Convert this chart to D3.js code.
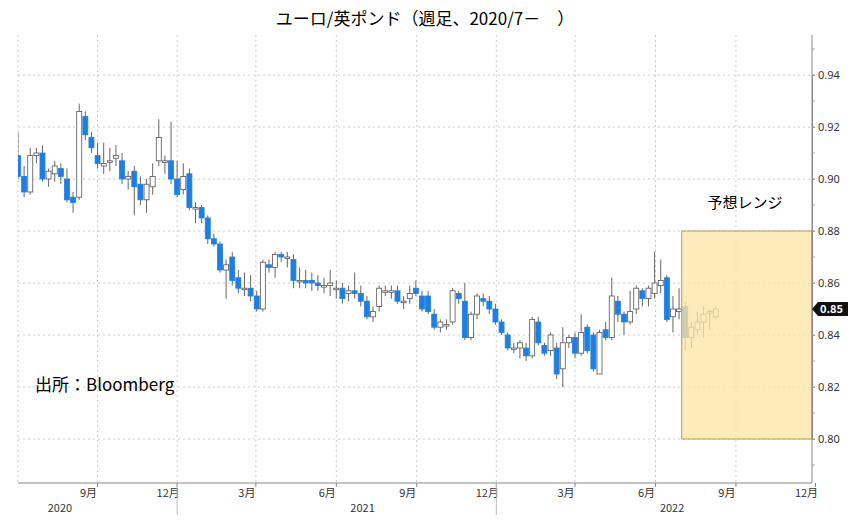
<!DOCTYPE html>
<html><head><meta charset="utf-8">
<script src="https://cdn.jsdelivr.net/npm/d3@7"></script>
<style>body{margin:0;background:#fff;font-family:"Noto Sans CJK JP","Noto Sans",sans-serif}</style>
</head><body><svg id="chart" width="854" height="525"></svg>
<script>
// weekly candles [open, high, low, close], from late May 2020
const candles = [
 [0.905,0.908,0.899,0.901],[0.909,0.918,0.900,0.901],[0.901,0.905,0.893,0.895],[0.895,0.912,0.894,0.909],
 [0.909,0.912,0.906,0.910],[0.910,0.913,0.899,0.900],[0.900,0.904,0.897,0.903],[0.902,0.907,0.899,0.905],
 [0.904,0.906,0.898,0.901],[0.900,0.904,0.891,0.892],[0.893,0.895,0.887,0.891],[0.893,0.929,0.892,0.926],
 [0.924,0.926,0.915,0.917],[0.916,0.918,0.910,0.912],[0.909,0.914,0.904,0.906],[0.905,0.914,0.902,0.906],
 [0.907,0.912,0.903,0.907],[0.908,0.913,0.905,0.909],[0.907,0.910,0.898,0.900],[0.900,0.903,0.896,0.901],
 [0.903,0.905,0.886,0.897],[0.898,0.901,0.890,0.892],[0.892,0.900,0.887,0.898],[0.897,0.906,0.894,0.901],
 [0.907,0.923,0.905,0.916],[0.907,0.909,0.902,0.907],[0.907,0.922,0.898,0.900],[0.900,0.907,0.893,0.894],
 [0.896,0.906,0.894,0.901],[0.902,0.904,0.888,0.889],[0.889,0.891,0.883,0.889],[0.889,0.890,0.883,0.885],
 [0.885,0.886,0.875,0.877],[0.877,0.879,0.874,0.875],[0.875,0.876,0.864,0.865],[0.865,0.869,0.854,0.867],
 [0.870,0.872,0.859,0.861],[0.862,0.865,0.856,0.858],[0.858,0.864,0.855,0.858],[0.858,0.863,0.853,0.855],
 [0.855,0.857,0.849,0.850],[0.850,0.869,0.849,0.868],[0.867,0.869,0.864,0.866],[0.866,0.872,0.862,0.871],
 [0.871,0.872,0.868,0.870],[0.870,0.872,0.866,0.870],[0.869,0.871,0.858,0.861],[0.861,0.866,0.858,0.861],
 [0.861,0.865,0.858,0.860],[0.861,0.864,0.857,0.860],[0.860,0.863,0.857,0.859],[0.859,0.862,0.856,0.859],
 [0.859,0.865,0.855,0.860],[0.858,0.861,0.854,0.858],[0.858,0.860,0.852,0.854],[0.856,0.859,0.853,0.857],
 [0.857,0.864,0.854,0.856],[0.856,0.859,0.851,0.853],[0.853,0.855,0.846,0.847],[0.847,0.851,0.845,0.849],
 [0.851,0.859,0.849,0.858],[0.857,0.859,0.855,0.857],[0.857,0.859,0.854,0.857],[0.857,0.859,0.852,0.853],
 [0.853,0.855,0.850,0.853],[0.854,0.859,0.852,0.856],[0.858,0.861,0.855,0.856],[0.855,0.857,0.849,0.850],
 [0.855,0.857,0.848,0.849],[0.848,0.850,0.842,0.843],[0.843,0.846,0.841,0.845],[0.844,0.846,0.842,0.844],
 [0.845,0.858,0.844,0.857],[0.856,0.857,0.852,0.854],[0.853,0.860,0.838,0.839],[0.839,0.849,0.838,0.848],
 [0.848,0.856,0.846,0.855],[0.854,0.856,0.851,0.853],[0.853,0.855,0.848,0.850],[0.850,0.852,0.844,0.845],
 [0.845,0.846,0.840,0.841],[0.840,0.841,0.834,0.835],[0.835,0.837,0.833,0.835],[0.835,0.838,0.831,0.837],
 [0.835,0.837,0.830,0.832],[0.832,0.847,0.831,0.846],[0.845,0.847,0.836,0.837],[0.836,0.837,0.832,0.833],
 [0.834,0.841,0.832,0.840],[0.835,0.837,0.823,0.825],[0.827,0.843,0.820,0.837],[0.837,0.840,0.835,0.839],
 [0.839,0.841,0.831,0.833],[0.833,0.848,0.832,0.841],[0.843,0.844,0.833,0.834],[0.840,0.841,0.826,0.827],
 [0.825,0.842,0.825,0.841],[0.842,0.845,0.838,0.839],[0.839,0.862,0.838,0.855],[0.853,0.855,0.845,0.848],
 [0.848,0.849,0.840,0.845],[0.845,0.857,0.844,0.849],[0.850,0.859,0.848,0.858],[0.857,0.858,0.851,0.854],
 [0.854,0.859,0.851,0.858],[0.856,0.872,0.854,0.860],[0.859,0.869,0.856,0.861],[0.862,0.863,0.845,0.846],
 [0.847,0.855,0.841,0.850],[0.849,0.858,0.846,0.850],[0.851,0.853,0.834,0.839],[0.839,0.845,0.835,0.843],
 [0.842,0.849,0.840,0.845],[0.845,0.851,0.839,0.848],[0.849,0.850,0.842,0.849],[0.847,0.851,0.846,0.850]
];
const startDate = new Date(2020, 4, 26);
const yTicks = [0.80, 0.82, 0.84, 0.86, 0.88, 0.90, 0.92, 0.94];
const monthTicks = [new Date(2020,8,1),new Date(2020,11,1),new Date(2021,2,1),new Date(2021,5,1),new Date(2021,8,1),
  new Date(2021,11,1),new Date(2022,2,1),new Date(2022,5,1),new Date(2022,8,1),new Date(2022,11,1)];
const years = [["2020", new Date(2020,6,20)], ["2021", new Date(2021,6,1)], ["2022", new Date(2022,5,20)]];
const rangeBand = [0.80, 0.88];
const rangeStart = new Date(2022,6,1), rangeEnd = new Date(2022,10,27);
const lastValue = 0.85;

const svg = d3.select("#chart");
const x = d3.scaleTime().domain([new Date(2020,5,2), new Date(2022,10,27)]).range([18, 812]);
const y = d3.scaleLinear().domain([0.80, 0.94]).range([439, 75]);
const dates = candles.map((d, i) => d3.timeDay.offset(startDate, i * 7));

svg.append("defs").append("clipPath").attr("id", "plot")
  .append("rect").attr("x", 18).attr("y", 35).attr("width", 794).attr("height", 448);

// grid
svg.append("g").selectAll("line").data(yTicks).join("line")
  .attr("x1", 18).attr("x2", 812).attr("y1", y).attr("y2", y)
  .attr("stroke", "#ccc").attr("stroke-dasharray", "2,3");
svg.append("g").selectAll("line").data([new Date(2020,5,2)].concat(monthTicks.slice(0, 9))).join("line")
  .attr("x1", x).attr("x2", x).attr("y1", 35).attr("y2", 483)
  .attr("stroke", "#ccc").attr("stroke-dasharray", "2,3");

// candles
const g = svg.append("g").attr("clip-path", "url(#plot)");
g.selectAll("line").data(candles).join("line")
  .attr("x1", (d, i) => x(dates[i])).attr("x2", (d, i) => x(dates[i]))
  .attr("y1", d => y(d[1])).attr("y2", d => y(d[2]))
  .attr("stroke", "#666").attr("stroke-width", 1);
g.selectAll("rect").data(candles).join("rect")
  .attr("x", (d, i) => x(dates[i]) - 2.5).attr("width", 5)
  .attr("y", d => y(Math.max(d[0], d[3])))
  .attr("height", d => Math.max(1.5, Math.abs(y(d[0]) - y(d[3]))))
  .attr("fill", d => d[0] > d[3] ? "#1e7fe3" : "#fff")
  .attr("stroke", d => d[0] > d[3] ? "#1e7fe3" : "#555").attr("stroke-width", 0.8);

// forecast range
svg.append("rect")
  .attr("x", x(rangeStart)).attr("width", x(rangeEnd) - x(rangeStart))
  .attr("y", y(rangeBand[1])).attr("height", y(rangeBand[0]) - y(rangeBand[1]))
  .attr("fill", "#fce6a8").attr("fill-opacity", 0.78).attr("stroke", "#b89a4a");
svg.append("text").attr("x", 745).attr("y", 208).attr("text-anchor", "middle")
  .attr("font-size", 15).text("予想レンジ");

// right axis
const ay = svg.append("g").attr("transform", "translate(812,0)")
  .call(d3.axisRight(y).tickValues(yTicks).tickFormat(d3.format(".2f")).tickSize(3))
  .call(a => a.select(".domain").attr("stroke", "#888"));
ay.selectAll("text").attr("font-size", 11).attr("fill", "#333").attr("font-family", "Noto Sans, sans-serif");
ay.selectAll("line").attr("stroke", "#888");
svg.append("g").selectAll("line").data(d3.range(0.79, 0.955, 0.01)).join("line")
  .attr("x1", 812).attr("x2", 815).attr("y1", y).attr("y2", y).attr("stroke", "#aaa");
svg.append("line").attr("x1", 812).attr("x2", 812).attr("y1", 35).attr("y2", 483).attr("stroke", "#888");
svg.append("path").attr("d", `M812,${y(lastValue)} l6,-7 h30 v14 h-30 z`).attr("fill", "#111");
svg.append("text").attr("x", 820).attr("y", y(lastValue) + 4).attr("fill", "#fff")
  .attr("font-size", 11).attr("font-weight", "bold").text(lastValue.toFixed(2));

// bottom axis
svg.append("line").attr("x1", 18).attr("x2", 812).attr("y1", 483).attr("y2", 483).attr("stroke", "#888");
svg.append("g").selectAll("text").data(monthTicks).join("text")
  .attr("x", d => x(d) - 9).attr("y", 497).attr("text-anchor", "middle")
  .attr("font-size", 11).attr("fill", "#333").text(d => (d.getMonth() + 1) + "月");
svg.append("g").selectAll("line").data(monthTicks).join("line")
  .attr("x1", x).attr("x2", x).attr("y1", 483).attr("y2", 487).attr("stroke", "#888");
svg.append("g").selectAll("line").data([new Date(2020,11,1), new Date(2021,11,1)]).join("line")
  .attr("x1", x).attr("x2", x).attr("y1", 483).attr("y2", 515).attr("stroke", "#bbb");
svg.append("g").selectAll("text").data(years).join("text")
  .attr("x", d => x(d[1])).attr("y", 512).attr("text-anchor", "middle")
  .attr("font-size", 11).attr("fill", "#333").text(d => d[0]);

// title and source
svg.append("text").attr("x", 425).attr("y", 25).attr("text-anchor", "middle")
  .attr("font-size", 17).text("ユーロ/英ポンド（週足、2020/7－　）");
svg.append("text").attr("x", 35).attr("y", 391).attr("font-size", 17).text("出所：Bloomberg");
</script></body></html>
